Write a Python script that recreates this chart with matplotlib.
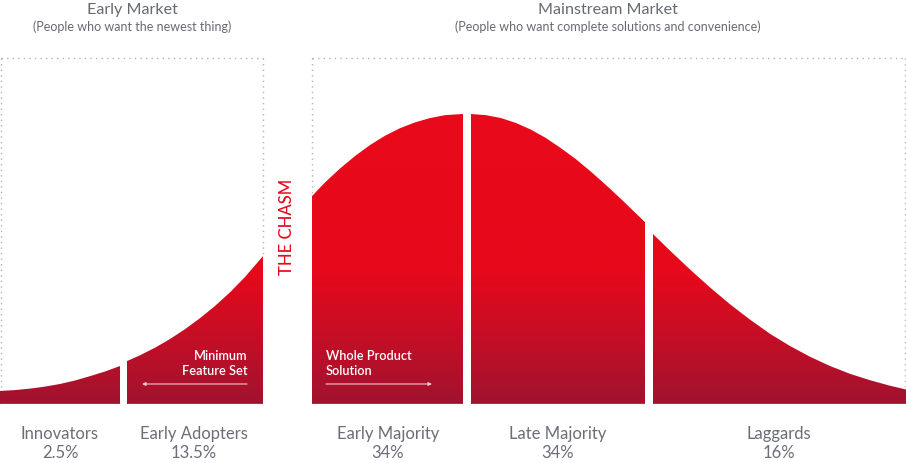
import numpy as np
import matplotlib
matplotlib.use("Agg")
import matplotlib.pyplot as plt
from matplotlib.patches import Polygon
from matplotlib.colors import LinearSegmentedColormap

plt.rcParams['font.family'] = ['Lato', 'DejaVu Sans']

# ---------------- data ----------------
segments = ["Innovators", "Early Adopters", "Early Majority", "Late Majority", "Laggards"]
shares = ["2.5%", "13.5%", "34%", "34%", "16%"]

# adoption timeline (0-906 units) and curve height (% of peak)
innov_x = [0, 15, 30, 45, 60, 75, 90, 105, 120]
innov_h = [4.5, 4.8, 5.3, 6.0, 6.9, 8.1, 9.6, 11.2, 13.1]
early_ad_x = [127, 140, 155, 170, 185, 200, 215, 230, 245, 263]
early_ad_h = [14.8, 16.8, 19.4, 22.4, 25.8, 29.6, 33.8, 38.5, 43.8, 51.0]
early_maj_x = [312, 325, 340, 355, 370, 385, 400, 415, 430, 445, 463]
early_maj_h = [71.7, 76.4, 81.2, 85.5, 89.3, 92.5, 95.1, 97.1, 98.6, 99.6, 100.0]
late_maj_x = [471, 486, 501, 516, 531, 546, 561, 576, 591, 606, 621, 636, 645]
late_maj_h = [100.0, 99.6, 98.6, 96.9, 94.6, 91.7, 88.2, 84.4, 80.1, 75.5, 70.7, 65.7, 62.7]
laggard_x = [653, 670, 690, 710, 730, 750, 770, 790, 810, 830, 850, 870, 890, 906]
laggard_h = [58.6, 52.9, 46.4, 40.2, 34.4, 29.1, 24.2, 20.0, 16.3, 13.1, 10.4, 8.2, 6.3, 5.0]

curve_x = [innov_x, early_ad_x, early_maj_x, late_maj_x, laggard_x]
curve_h = [innov_h, early_ad_h, early_maj_h, late_maj_h, laggard_h]

markets = ["Early Market", "Mainstream Market"]
market_subs = ["(People who want the newest thing)",
               "(People who want complete solutions and convenience)"]

# ---------------- figure ----------------
W, H = 906, 464
fig = plt.figure(figsize=(W / 100, H / 100), dpi=100)

base_px, peak_px = 405, 115
ax = fig.add_axes([0, (H - base_px) / H, 1, (base_px - peak_px) / H])
ax.set_xlim(0, 906)
ax.set_ylim(0, 100)
ax.axis('off')

cmap = LinearSegmentedColormap.from_list(
    'redgrad', [(0.0, '#a1122f'), (0.2, '#c00f27'), (0.45, '#e6091b'), (1.0, '#e9091a')])
grad = np.linspace(0, 1, 256).reshape(-1, 1)

for xs, hs in zip(curve_x, curve_h):
    verts = [(xs[0], 0)] + list(zip(xs, hs)) + [(xs[-1], 0)]
    poly = Polygon(verts, closed=True, facecolor='none', edgecolor='none')
    ax.add_patch(poly)
    im = ax.imshow(grad, extent=(xs[0], xs[-1], 0, 100), origin='lower',
                   cmap=cmap, aspect='auto', interpolation='bilinear')
    im.set_clip_path(poly)
    ax.plot([xs[0], xs[-1]], [0, 0], color='#eaa6b2', lw=1.0, solid_capstyle='butt')

# ---------------- overlay in pixel space ----------------
ov = fig.add_axes([0, 0, 1, 1])
ov.set_xlim(0, W)
ov.set_ylim(H, 0)
ov.axis('off')
ov.patch.set_alpha(0)

dot = dict(color='#b3b3b3', lw=1.0, linestyle=(0, (1, 3)))
# early market box
ov.plot([1, 1], [59, 390], **dot)
ov.plot([1, 263], [59, 59], **dot)
ov.plot([263, 263], [59, 257], **dot)
# mainstream box
ov.plot([312, 312], [59, 197], **dot)
ov.plot([312, 905], [59, 59], **dot)
ov.plot([905, 905], [59, 390], **dot)

title_c = '#666a73'
ov.text(132, 10, markets[0], ha='center', va='center', fontsize=11.6, color=title_c)
ov.text(132, 27, market_subs[0], ha='center', va='center', fontsize=9, color=title_c)
ov.text(608, 10, markets[1], ha='center', va='center', fontsize=11.6, color=title_c)
ov.text(608, 27, market_subs[1], ha='center', va='center', fontsize=9, color=title_c)

ov.text(287, 227, "THE CHASM", rotation=90, ha='center', va='center',
        fontsize=12, color='#e30b1c', fontweight='medium')

label_x = [60, 194, 388, 558, 779]
for lx, name, share in zip(label_x, segments, shares):
    ov.text(lx, 434, name, ha='center', va='center', fontsize=12, color='#6b6e78')
    ov.text(lx, 453, share, ha='center', va='center', fontsize=12, color='#6b6e78')

inner = dict(va='center', fontsize=9.2, color='white', fontweight='semibold')
ov.text(247, 356, "Minimum", ha='right', **inner)
ov.text(247, 371, "Feature Set", ha='right', **inner)
ov.annotate("", xy=(142, 385), xytext=(247, 385),
            arrowprops=dict(arrowstyle='-|>', color='#f4c6cd', lw=0.8,
                            mutation_scale=5, shrinkA=0, shrinkB=0))
ov.text(326, 356, "Whole Product", ha='left', **inner)
ov.text(326, 371, "Solution", ha='left', **inner)
ov.annotate("", xy=(432, 385), xytext=(326, 385),
            arrowprops=dict(arrowstyle='-|>', color='#f4c6cd', lw=0.8,
                            mutation_scale=5, shrinkA=0, shrinkB=0))

fig.savefig('out.png', dpi=100)
